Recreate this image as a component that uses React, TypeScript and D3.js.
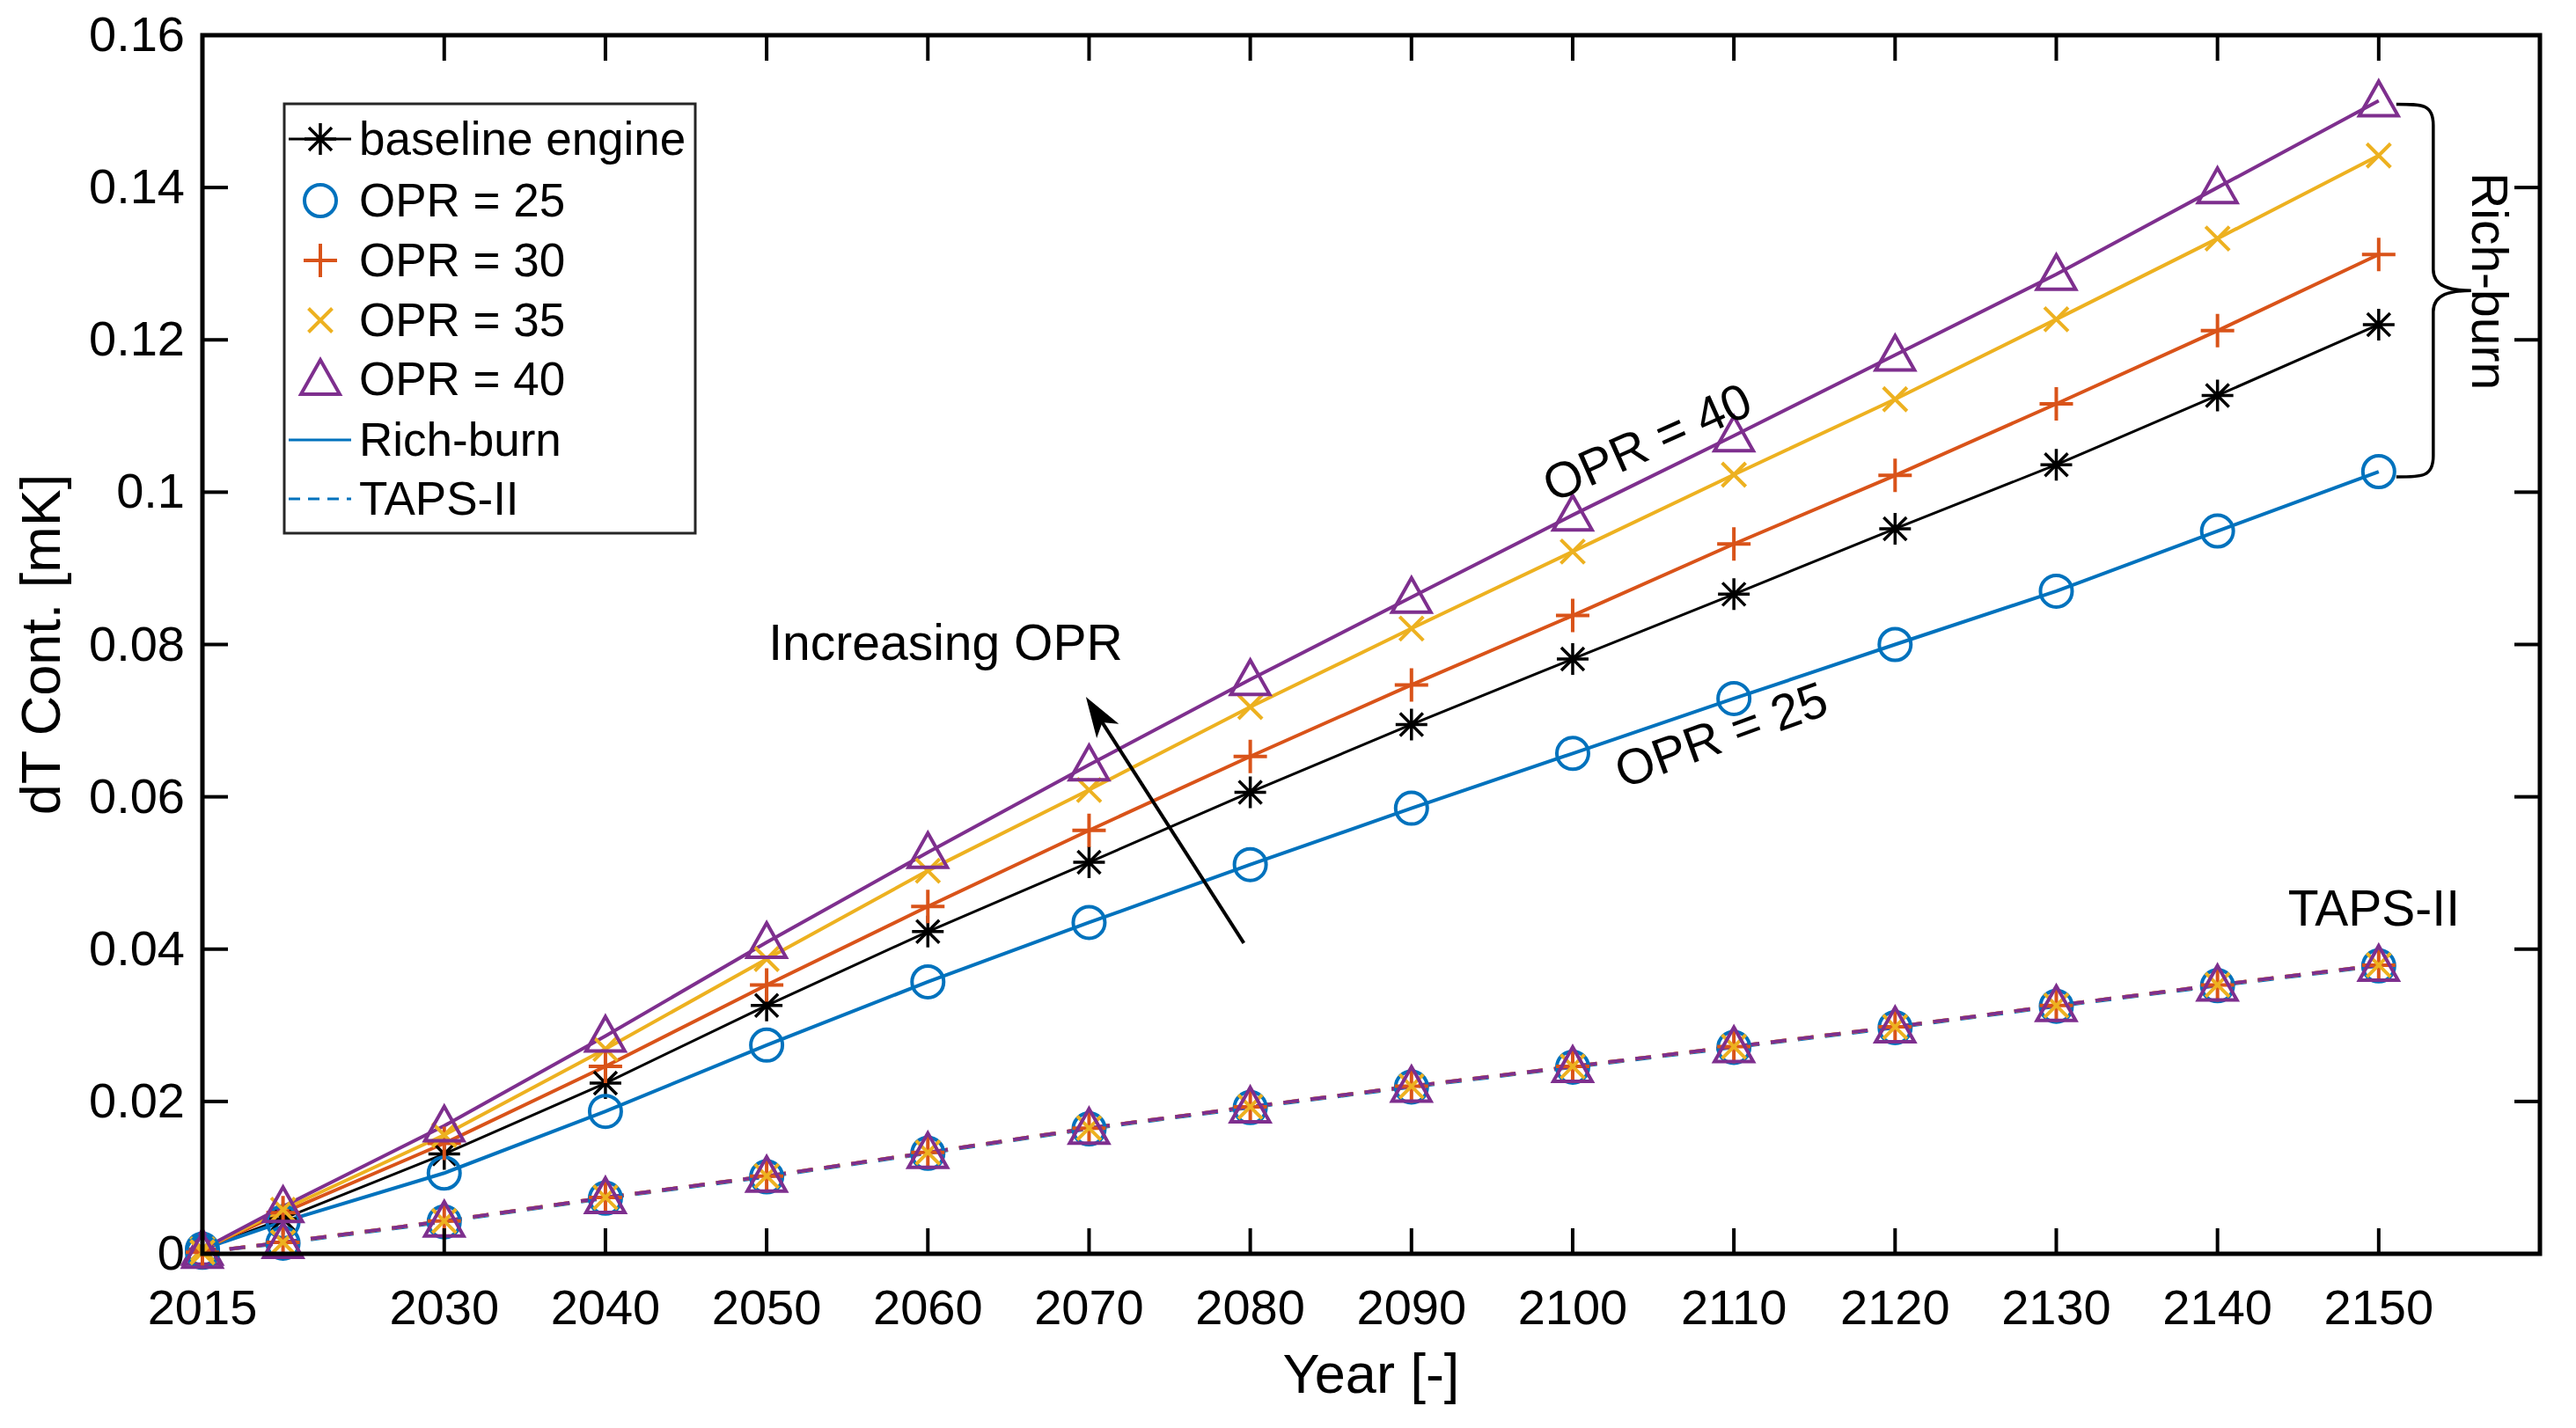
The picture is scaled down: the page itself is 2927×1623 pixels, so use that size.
import React from "react";
import * as d3 from "d3";

const years = [2015, 2020, 2030, 2040, 2050, 2060, 2070, 2080, 2090, 2100, 2110, 2120, 2130, 2140, 2150];

const baseline = [0.0006, 0.0046, 0.0131, 0.0224, 0.0326, 0.0423, 0.0514, 0.0606, 0.0695, 0.0781, 0.0866, 0.0952, 0.1036, 0.1127, 0.122];
const opr25 = [0.0006, 0.0042, 0.0106, 0.0187, 0.0274, 0.0357, 0.0435, 0.0511, 0.0585, 0.0657, 0.0729, 0.08, 0.087, 0.0949, 0.1027];
const opr30 = [0.0006, 0.0054, 0.0145, 0.0246, 0.0353, 0.0456, 0.0556, 0.0653, 0.0747, 0.0838, 0.0932, 0.1022, 0.1116, 0.1212, 0.1312];
const opr35 = [0.0006, 0.0058, 0.0156, 0.0269, 0.0387, 0.0503, 0.0609, 0.0718, 0.0821, 0.0922, 0.1023, 0.1122, 0.1227, 0.1333, 0.1442];
const opr40 = [0.0006, 0.0062, 0.0168, 0.0286, 0.0409, 0.0527, 0.0642, 0.0754, 0.0862, 0.097, 0.1074, 0.118, 0.1286, 0.14, 0.1514];

const taps25 = [0.0002, 0.0014, 0.0042, 0.0073, 0.0101, 0.0132, 0.0164, 0.0192, 0.0219, 0.0245, 0.0271, 0.0297, 0.0325, 0.0352, 0.0378];
const taps30 = [0.0002, 0.0015, 0.0043, 0.0074, 0.0102, 0.0133, 0.0165, 0.0193, 0.022, 0.0246, 0.0272, 0.0298, 0.0326, 0.0353, 0.0379];
const taps35 = [0.0002, 0.0015, 0.0043, 0.0074, 0.0102, 0.0133, 0.0165, 0.0193, 0.022, 0.0246, 0.0272, 0.0298, 0.0326, 0.0353, 0.0379];
const taps40 = [0.0002, 0.0015, 0.0043, 0.0074, 0.0102, 0.0133, 0.0165, 0.0193, 0.022, 0.0246, 0.0272, 0.0298, 0.0326, 0.0353, 0.0379];

const xTicks = [2015, 2030, 2040, 2050, 2060, 2070, 2080, 2090, 2100, 2110, 2120, 2130, 2140, 2150];
const yTicks = [0, 0.02, 0.04, 0.06, 0.08, 0.1, 0.12, 0.14, 0.16];
const yTickLabels = ["0", "0.02", "0.04", "0.06", "0.08", "0.1", "0.12", "0.14", "0.16"];

const legendLabels = ["baseline engine", "OPR = 25", "OPR = 30", "OPR = 35", "OPR = 40", "Rich-burn", "TAPS-II"];

const BLUE = "#0072BD";
const ORANGE = "#D95319";
const YELLOW = "#EDB120";
const PURPLE = "#7E2F8E";
const BLACK = "#000000";

const W = 2927;
const H = 1623;
const FONT = "'Liberation Sans', Arial, Helvetica, sans-serif";

const x = d3.scaleLinear().domain([2015, 2160]).range([230, 2886]);
const y = d3.scaleLinear().domain([0, 0.16]).range([1425, 40]);

type MarkerKind = "star" | "circle" | "plus" | "cross" | "tri";

function Marker({ kind, cx, cy, color }: { kind: MarkerKind; cx: number; cy: number; color: string }) {
  const sw = 4;
  if (kind === "circle") {
    return <circle cx={cx} cy={cy} r={18} fill="none" stroke={color} strokeWidth={sw} />;
  }
  if (kind === "plus") {
    const s = 19;
    return (
      <path d={`M${cx - s},${cy}H${cx + s}M${cx},${cy - s}V${cy + s}`} stroke={color} strokeWidth={sw} fill="none" />
    );
  }
  if (kind === "cross") {
    const s = 13.5;
    return (
      <path
        d={`M${cx - s},${cy - s}L${cx + s},${cy + s}M${cx - s},${cy + s}L${cx + s},${cy - s}`}
        stroke={color}
        strokeWidth={sw}
        fill="none"
      />
    );
  }
  if (kind === "tri") {
    return (
      <path
        d={`M${cx},${cy - 22}L${cx + 22},${cy + 17}L${cx - 22},${cy + 17}Z`}
        stroke={color}
        strokeWidth={sw}
        fill="none"
        strokeLinejoin="miter"
      />
    );
  }
  const s = 18;
  const d = 13;
  return (
    <path
      d={`M${cx - s},${cy}H${cx + s}M${cx},${cy - s}V${cy + s}M${cx - d},${cy - d}L${cx + d},${cy + d}M${cx - d},${cy + d}L${cx + d},${cy - d}`}
      stroke={color}
      strokeWidth={3.5}
      fill="none"
    />
  );
}

type Series = { values: number[]; color: string; marker: MarkerKind; dashed: boolean; width: number };

const seriesList: Series[] = [
  { values: baseline, color: BLACK, marker: "star", dashed: false, width: 3 },
  { values: opr25, color: BLUE, marker: "circle", dashed: false, width: 4 },
  { values: opr30, color: ORANGE, marker: "plus", dashed: false, width: 4 },
  { values: opr35, color: YELLOW, marker: "cross", dashed: false, width: 4 },
  { values: opr40, color: PURPLE, marker: "tri", dashed: false, width: 4 },
  { values: taps25, color: BLUE, marker: "circle", dashed: true, width: 4 },
  { values: taps30, color: ORANGE, marker: "plus", dashed: true, width: 4 },
  { values: taps35, color: YELLOW, marker: "cross", dashed: true, width: 4 },
  { values: taps40, color: PURPLE, marker: "tri", dashed: true, width: 4 },
];

const line = d3
  .line<number>()
  .x((_, i) => x(years[i]))
  .y((v) => y(v));

export default function App() {
  const [x0, x1] = x.range();
  const [yb, yt] = y.range();
  const tickLen = 29;

  // arrow (annotation) in data coords
  const tail = [x(2079.6), y(0.0408)];
  const tip = [x(2069.9), y(0.0728)];
  const adx = tip[0] - tail[0];
  const ady = tip[1] - tail[1];
  const alen = Math.hypot(adx, ady);
  const ux = adx / alen;
  const uy = ady / alen;
  const px = -uy;
  const py = ux;
  const hl = 40;
  const hw = 13;
  const notch = 30;
  const headPath = `M${tip[0]},${tip[1]}L${tip[0] - hl * ux + hw * px},${tip[1] - hl * uy + hw * py}L${tip[0] - notch * ux},${tip[1] - notch * uy}L${tip[0] - hl * ux - hw * px},${tip[1] - hl * uy - hw * py}Z`;

  // brace
  const bx0 = x(2150) + 20;
  const bxm = bx0 + 42;
  const bxt = bxm + 43;
  const byT = y(opr40[opr40.length - 1]) + 4;
  const byB = y(opr25[opr25.length - 1]) + 6;
  const byM = (byT + byB) / 2;
  const r = 24;
  const bracePath = `M${bx0},${byT}C${bx0 + 30},${byT} ${bxm},${byT} ${bxm},${byT + r}L${bxm},${byM - r}C${bxm},${byM - 4} ${bxm + 20},${byM} ${bxt},${byM}C${bxm + 20},${byM} ${bxm},${byM + 4} ${bxm},${byM + r}L${bxm},${byB - r}C${bxm},${byB} ${bx0 + 30},${byB} ${bx0},${byB}`;

  const legendRows = [158, 228, 296, 364, 431, 500, 567];
  const legendMarkers: (MarkerKind | null)[] = ["star", "circle", "plus", "cross", "tri", null, null];
  const legendColors = [BLACK, BLUE, ORANGE, YELLOW, PURPLE, BLUE, BLUE];

  return (
    <div style={{ position: "absolute", left: 0, top: 0 }}>
      <svg width={W} height={H} viewBox={`0 0 ${W} ${H}`} style={{ display: "block", background: "#fff" }} fontFamily={FONT}>
        <rect x={0} y={0} width={W} height={H} fill="#fff" />

        {/* lines */}
        {seriesList.map((s, i) => (
          <path
            key={`l${i}`}
            d={line(s.values) || ""}
            fill="none"
            stroke={s.color}
            strokeWidth={s.width}
            strokeDasharray={s.dashed ? "18,13" : undefined}
          />
        ))}
        {/* markers */}
        {seriesList.map((s, i) => (
          <g key={`m${i}`}>
            {s.values.map((v, j) => (
              <Marker key={j} kind={s.marker} cx={x(years[j])} cy={y(v)} color={s.color} />
            ))}
          </g>
        ))}

        {/* axes box */}
        <rect x={x0} y={yt} width={x1 - x0} height={yb - yt} fill="none" stroke="#000" strokeWidth={5} />
        {xTicks.map((t) => (
          <g key={`xt${t}`}>
            <line x1={x(t)} x2={x(t)} y1={yb} y2={yb - tickLen} stroke="#000" strokeWidth={4} />
            <line x1={x(t)} x2={x(t)} y1={yt} y2={yt + tickLen} stroke="#000" strokeWidth={4} />
            <text x={x(t)} y={1505} fontSize={56} textAnchor="middle" fill="#000">
              {t}
            </text>
          </g>
        ))}
        {yTicks.map((t, i) => (
          <g key={`yt${i}`}>
            <line x1={x0} x2={x0 + tickLen} y1={y(t)} y2={y(t)} stroke="#000" strokeWidth={4} />
            <line x1={x1} x2={x1 - tickLen} y1={y(t)} y2={y(t)} stroke="#000" strokeWidth={4} />
            <text x={210} y={y(t) + 18} fontSize={56} textAnchor="end" fill="#000">
              {yTickLabels[i]}
            </text>
          </g>
        ))}

        {/* axis labels */}
        <text x={(x0 + x1) / 2} y={1583} fontSize={63} textAnchor="middle" fill="#000">
          Year [-]
        </text>
        <text transform={`translate(68,${(yt + yb) / 2}) rotate(-90)`} fontSize={63} textAnchor="middle" fill="#000">
          dT Cont. [mK]
        </text>

        {/* annotations */}
        <text x={x(2061.1)} y={y(0.078)} fontSize={57} textAnchor="middle" fill="#000">
          Increasing OPR
        </text>
        <line x1={tail[0]} y1={tail[1]} x2={tip[0] - 30 * ux} y2={tip[1] - 30 * uy} stroke="#000" strokeWidth={4} />
        <path d={headPath} fill="#000" stroke="#000" strokeWidth={2} />

        <text
          transform={`translate(${x(2104.6)},${y(0.1066)}) rotate(-24)`}
          fontSize={57}
          textAnchor="middle"
          dy="0.35em"
          fill="#000"
        >
          OPR = 40
        </text>
        <text
          transform={`translate(${x(2109.2)},${y(0.0682)}) rotate(-20)`}
          fontSize={57}
          textAnchor="middle"
          dy="0.35em"
          fill="#000"
        >
          OPR = 25
        </text>
        <text x={x(2149.7)} y={y(0.0431)} fontSize={57} textAnchor="middle" fill="#000">
          TAPS-II
        </text>
        <path d={bracePath} fill="none" stroke="#000" strokeWidth={3.5} />
        <text
          transform={`translate(${x(2156.9)},${y(0.1277)}) rotate(90)`}
          fontSize={57}
          textAnchor="middle"
          dy="0.35em"
          fill="#000"
        >
          Rich-burn
        </text>

        {/* legend */}
        <rect x={323} y={118} width={467} height={488} fill="#fff" stroke="#262626" strokeWidth={3} />
        {legendLabels.map((lab, i) => {
          const cy = legendRows[i];
          const mk = legendMarkers[i];
          return (
            <g key={`lg${i}`}>
              {i === 0 && <line x1={328} x2={399} y1={cy} y2={cy} stroke={BLACK} strokeWidth={3} />}
              {i === 5 && <line x1={328} x2={399} y1={cy} y2={cy} stroke={BLUE} strokeWidth={3} />}
              {i === 6 && (
                <line x1={328} x2={399} y1={cy} y2={cy} stroke={BLUE} strokeWidth={3} strokeDasharray="13,9" />
              )}
              {mk && <Marker kind={mk} cx={364} cy={cy} color={legendColors[i]} />}
              <text x={408} y={cy + 18} fontSize={53} fill="#000">
                {lab}
              </text>
            </g>
          );
        })}
      </svg>
    </div>
  );
}
